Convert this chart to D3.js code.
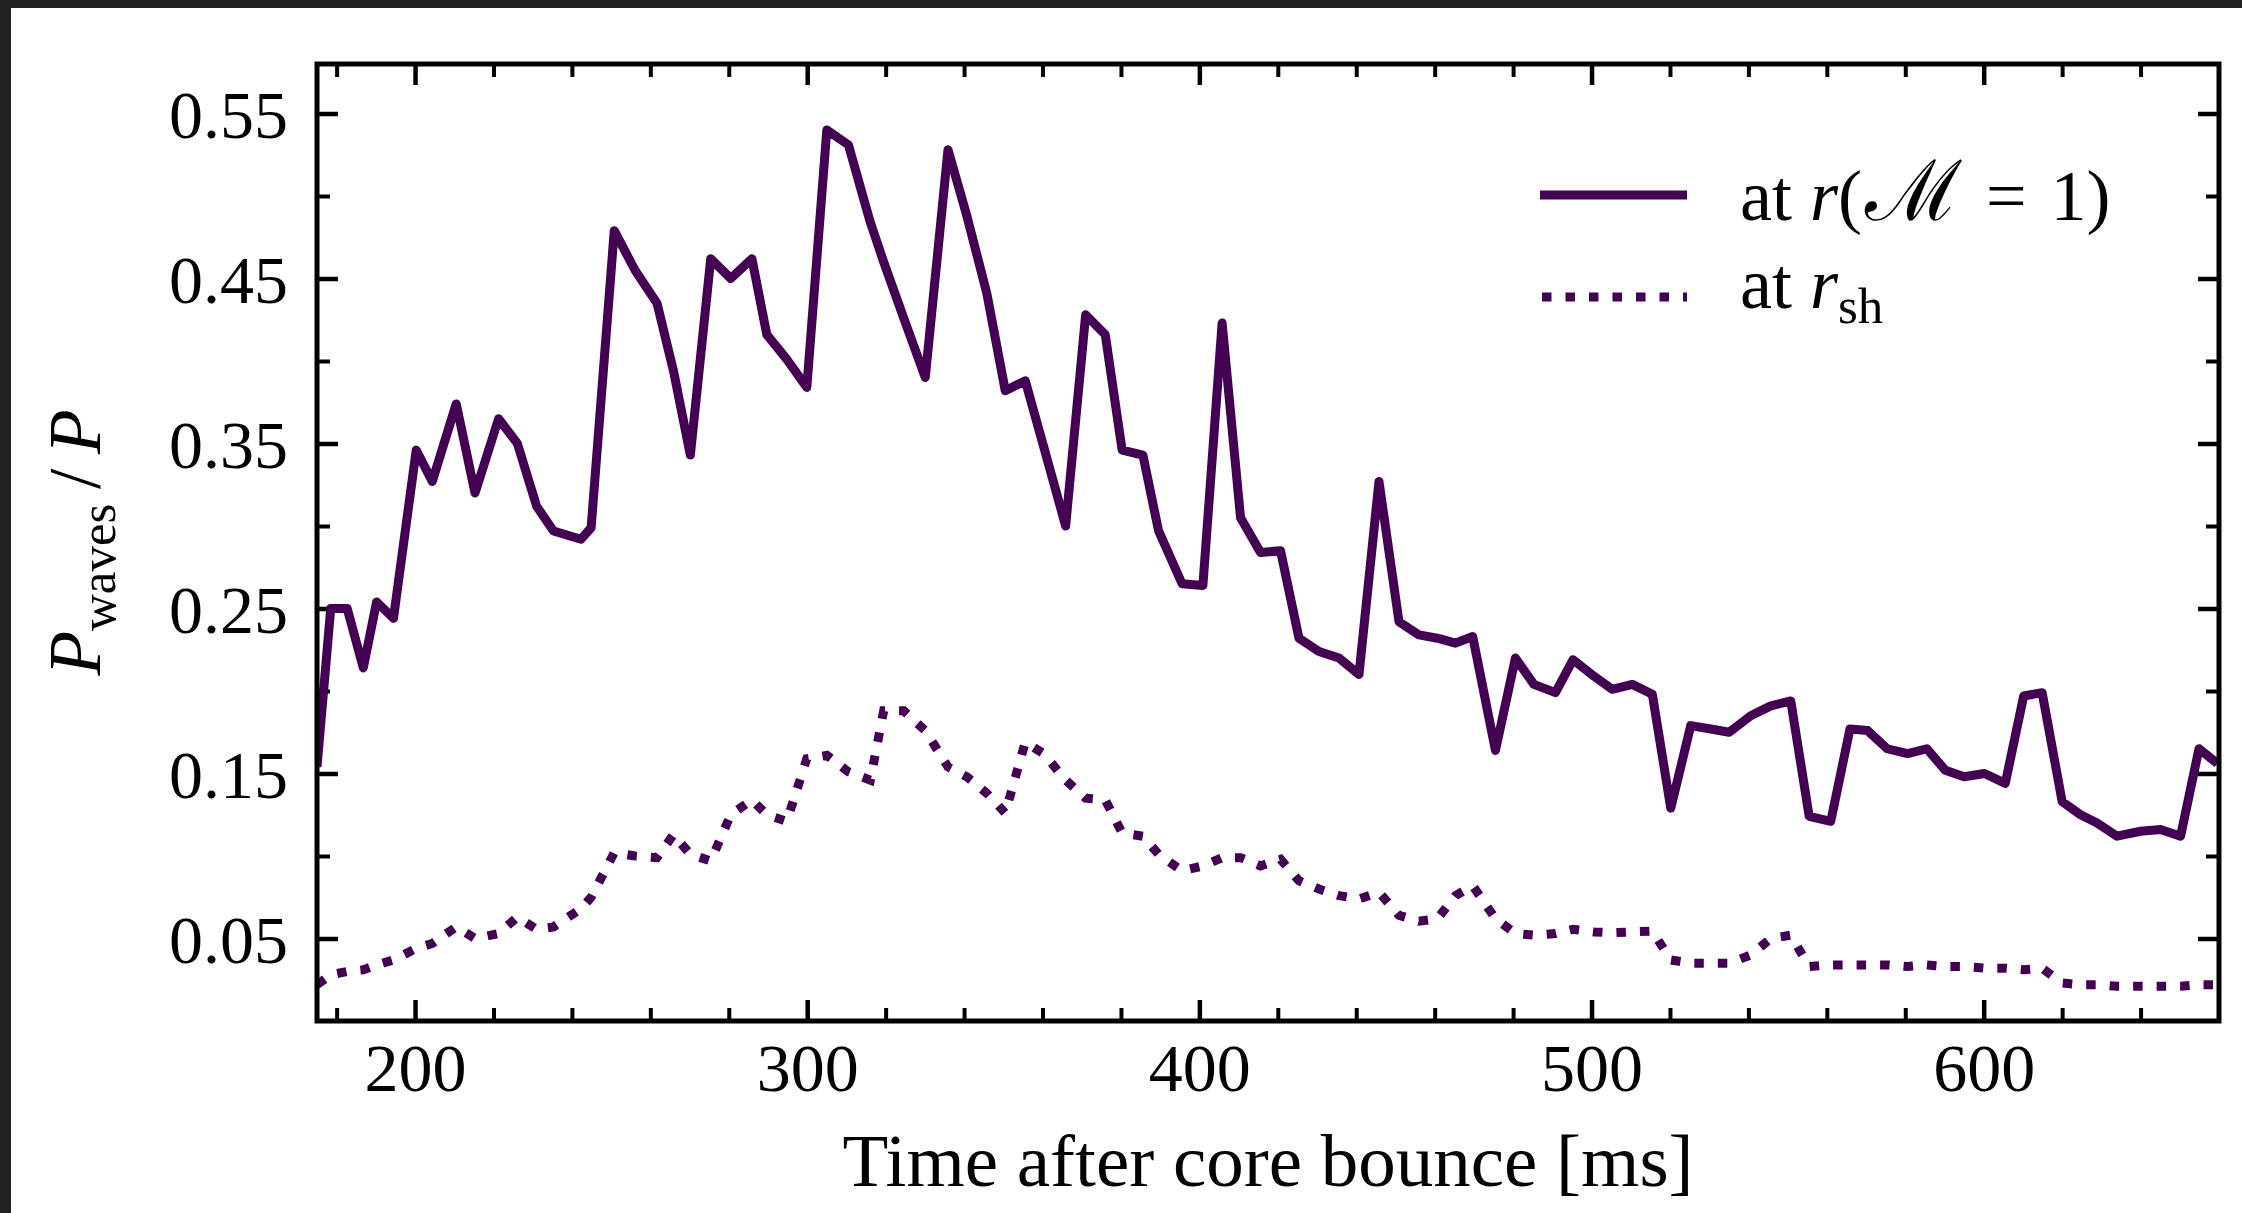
<!DOCTYPE html>
<html>
<head>
<meta charset="utf-8">
<script src="https://cdn.jsdelivr.net/npm/d3@7/dist/d3.min.js"></script>
<style>
body { margin: 0; background: #fff; }
svg { display: block; }
</style>
</head>
<body>
<div id="paper"></div>
<script>
// time after core bounce [ms]
const times = [175, 178.5, 182.7, 186.8, 190.2, 194.5, 200.3, 204.4, 210.5, 215.3,
	221.3, 226.1, 231, 235.3, 242.3, 244.9, 250.8, 256.1, 261.7, 265.9,
	270.2, 275.4, 280.5, 285.9, 289.7, 294.8, 299.9, 305, 310.5, 316.1,
	319.5, 324.6, 330.1, 335.9, 340.7, 345.8, 350.5, 355.6, 360.3, 365.9,
	371, 376, 380.3, 385.6, 389.6, 395.6, 400.9, 405.8, 410.5, 415.6,
	420.7, 425.4, 430.5, 435.6, 440.7, 445.8, 450.9, 456, 460.7, 465.3,
	469.7, 475.5, 480.6, 485.3, 490.8, 495.3, 500.6, 505.3, 510.4, 515.5,
	520.2, 525.3, 530.4, 535.1, 540.6, 545.7, 550.8, 555.5, 561, 565.9,
	570.4, 575.4, 580.6, 585.5, 590.2, 595, 600.2, 605.5, 610.2, 614.9,
	620, 624.7, 628.9, 634, 640, 645.1, 650.2, 654.9, 659.6];

// P_waves / P at r(M = 1)
const atSonic = [0.154, 0.25, 0.25, 0.214, 0.254, 0.244, 0.346, 0.327, 0.374, 0.32,
	0.365, 0.35, 0.312, 0.297, 0.292, 0.299, 0.479, 0.455, 0.435, 0.394,
	0.343, 0.462, 0.45, 0.462, 0.416, 0.401, 0.384, 0.54, 0.531, 0.484,
	0.46, 0.426, 0.39, 0.528, 0.488, 0.441, 0.382, 0.388, 0.348, 0.30,
	0.428, 0.416, 0.346, 0.343, 0.297, 0.265, 0.264, 0.423, 0.305, 0.284,
	0.285, 0.232, 0.224, 0.22, 0.21, 0.327, 0.242, 0.234, 0.232, 0.229,
	0.233, 0.164, 0.22, 0.204, 0.199, 0.219, 0.209, 0.201, 0.204, 0.198,
	0.129, 0.179, 0.177, 0.175, 0.185, 0.191, 0.194, 0.124, 0.121, 0.177,
	0.176, 0.165, 0.162, 0.165, 0.152, 0.148, 0.15, 0.144, 0.197, 0.199,
	0.133, 0.125, 0.12, 0.112, 0.115, 0.116, 0.112, 0.165, 0.156];

// P_waves / P at r_sh
const atShock = [0.022, 0.028, 0.030, 0.031, 0.034, 0.037, 0.044, 0.047, 0.057, 0.050,
	0.053, 0.063, 0.0555, 0.057, 0.068, 0.075, 0.102, 0.100, 0.099, 0.113,
	0.101, 0.097, 0.125, 0.134, 0.125, 0.121, 0.159, 0.161, 0.151, 0.146,
	0.188, 0.188, 0.176, 0.154, 0.148, 0.138, 0.126, 0.169, 0.162, 0.146,
	0.135, 0.134, 0.114, 0.112, 0.101, 0.091, 0.094, 0.099, 0.099, 0.094,
	0.098, 0.085, 0.080, 0.076, 0.074, 0.078, 0.064, 0.0605, 0.062, 0.076,
	0.082, 0.062, 0.053, 0.052, 0.053, 0.0556, 0.054, 0.0535, 0.054, 0.0545,
	0.037, 0.035, 0.035, 0.035, 0.040, 0.050, 0.052, 0.033, 0.034, 0.034,
	0.034, 0.034, 0.033, 0.034, 0.033, 0.033, 0.032, 0.032, 0.031, 0.032,
	0.023, 0.022, 0.022, 0.021, 0.021, 0.021, 0.021, 0.022, 0.022];

const xMajor = [200, 300, 400, 500, 600];
const xMinor = [180, 220, 240, 260, 280, 320, 340, 360, 380, 420, 440, 460, 480,
	520, 540, 560, 580, 620, 640];
const yMajor = [0.05, 0.15, 0.25, 0.35, 0.45, 0.55];
const yMinor = [0.1, 0.2, 0.3, 0.4, 0.5];

const W = 2242, H = 1213;
const box = {left: 317, right: 2219, top: 64, bottom: 1021};
const col = "#440154";
const font = "'Liberation Serif', 'DejaVu Serif', serif";

let x = d3.scaleLinear().domain([175, 660]).range([box.left, box.right]);
let y = d3.scaleLinear().domain([0, 0.58]).range([box.bottom, box.top]);

const svg = d3.select("#paper").append("svg")
	.attr("width", W)
	.attr("height", H)
	.style("font-family", font);

svg.append("rect").attr("width", W).attr("height", H).attr("fill", "#fff");
// dark window edge along the top and left
svg.append("rect").attr("width", W).attr("height", 8).attr("fill", "#222");
svg.append("rect").attr("width", 11).attr("height", H).attr("fill", "#222");

svg.append("clipPath").attr("id", "plotclip")
	.append("rect")
	.attr("x", box.left).attr("y", box.top)
	.attr("width", box.right - box.left).attr("height", box.bottom - box.top);

// ticks point inwards on all four sides
let tickAxis = (axis, vals, len, width, labels, pad) => {
	let a = axis.tickValues(vals).tickSize(-len).tickSizeOuter(0).tickPadding(pad || 0);
	if(!labels) a.tickFormat("");
	return g => {
		g.call(a);
		g.select(".domain").remove();
		g.selectAll(".tick line").attr("stroke", "#000").attr("stroke-width", width);
		g.selectAll(".tick text").attr("fill", "#000").style("font-size", "68px").style("font-family", font);
	};
};

svg.append("g").attr("transform", `translate(0,${box.bottom})`)
	.call(tickAxis(d3.axisBottom(x), xMajor, 21, 4.5, true, 22));
svg.append("g").attr("transform", `translate(0,${box.bottom})`)
	.call(tickAxis(d3.axisBottom(x), xMinor, 13, 4));
svg.append("g").attr("transform", `translate(0,${box.top})`)
	.call(tickAxis(d3.axisTop(x), xMajor, 21, 4.5));
svg.append("g").attr("transform", `translate(0,${box.top})`)
	.call(tickAxis(d3.axisTop(x), xMinor, 13, 4));

svg.append("g").attr("transform", `translate(${box.left},0)`)
	.call(tickAxis(d3.axisLeft(y), yMajor, 21, 4.5, true, 29));
svg.append("g").attr("transform", `translate(${box.left},0)`)
	.call(tickAxis(d3.axisLeft(y), yMinor, 13, 4));
svg.append("g").attr("transform", `translate(${box.right},0)`)
	.call(tickAxis(d3.axisRight(y), yMajor, 21, 4.5));
svg.append("g").attr("transform", `translate(${box.right},0)`)
	.call(tickAxis(d3.axisRight(y), yMinor, 13, 4));

svg.selectAll(".tick text").filter(function(){ return this.textContent.startsWith("0."); })
	.attr("dy", "0.35em");

let line = d3.line()
	.x((d, i) => x(times[i]))
	.y(d => y(d));

let plot = svg.append("g").attr("clip-path", "url(#plotclip)");

plot.append("path")
	.attr("d", line(atShock))
	.attr("fill", "none")
	.attr("stroke", col)
	.attr("stroke-width", 9)
	.attr("stroke-dasharray", "9.5,14");

plot.append("path")
	.attr("d", line(atSonic))
	.attr("fill", "none")
	.attr("stroke", col)
	.attr("stroke-width", 9)
	.attr("stroke-linejoin", "round");

// frame
svg.append("rect")
	.attr("x", box.left).attr("y", box.top)
	.attr("width", box.right - box.left).attr("height", box.bottom - box.top)
	.attr("fill", "none")
	.attr("stroke", "#000")
	.attr("stroke-width", 5);

// axis labels
svg.append("text")
	.attr("x", (box.left + box.right) / 2)
	.attr("y", 1186)
	.attr("text-anchor", "middle")
	.style("font-size", "75px")
	.text("Time after core bounce [ms]");

let ylab = svg.append("text")
	.attr("transform", `translate(100,${(box.top + box.bottom) / 2}) rotate(-90)`)
	.attr("text-anchor", "middle")
	.style("font-size", "73px");
ylab.append("tspan").style("font-style", "italic").text("P");
ylab.append("tspan").attr("dy", 15).style("font-size", "51px").text("waves");
ylab.append("tspan").attr("dy", -15).text("\u2009/\u2009");
ylab.append("tspan").style("font-style", "italic").text("P");

// legend
let leg = svg.append("g").style("font-size", "72px");

leg.append("line")
	.attr("x1", 1540).attr("x2", 1687).attr("y1", 195).attr("y2", 195)
	.attr("stroke", col).attr("stroke-width", 9);
leg.append("line")
	.attr("x1", 1542).attr("x2", 1687).attr("y1", 297).attr("y2", 297)
	.attr("stroke", col).attr("stroke-width", 9)
	.attr("stroke-dasharray", "9.5,14");

let t1 = leg.append("text").attr("x", 1740).attr("y", 220);
t1.append("tspan").text("at ");
t1.append("tspan").style("font-style", "italic").text("r");
t1.append("tspan").text("(");
t1.append("tspan").attr("dx", 3).style("font-family", "'DejaVu Serif', serif").style("font-size", "84px").text("\u2133");
t1.append("tspan").text("\u2004=\u20041)");

let t2 = leg.append("text").attr("x", 1740).attr("y", 308);
t2.append("tspan").text("at ");
t2.append("tspan").style("font-style", "italic").text("r");
t2.append("tspan").attr("dy", 15).style("font-size", "51px").text("sh");
</script>
</body>
</html>
